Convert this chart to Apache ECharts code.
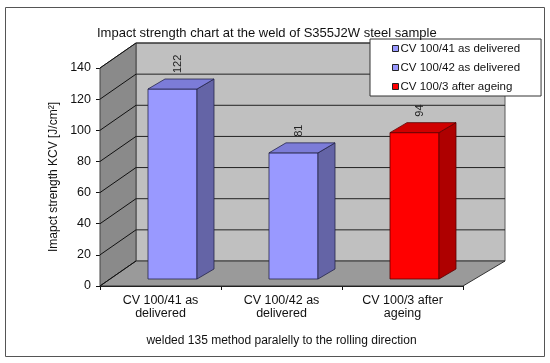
<!DOCTYPE html>
<html>
<head>
<meta charset="utf-8">
<script src="https://cdn.jsdelivr.net/npm/echarts@6/dist/echarts.min.js"></script>
<style>
html,body{margin:0;padding:0;background:#fff;}
#chart{width:550px;height:363px;}
</style>
</head>
<body>
<div id="chart"></div>
<script>
// ---- data ----
const categories = ['CV 100/41 as\ndelivered', 'CV 100/42 as\ndelivered', 'CV 100/3 after\nageing'];
const seriesNames = ['CV 100/41 as delivered', 'CV 100/42 as delivered', 'CV 100/3 after ageing'];
const values = [122, 81, 94];
const yMin = 0, yMax = 140, yStep = 20;

// ---- styles ----
const FONT = 'Arial, "Liberation Sans", sans-serif';
const faceColors = ['#9999FF', '#9999FF', '#FF0000'];
const sideColors = ['#6464A6', '#6464A6', '#AE0000'];
const topColors = ['#7C7CD8', '#7C7CD8', '#D00000'];
const edgeColors = ['#26264A', '#26264A', '#5A0000'];

// 3D geometry (pixels)
const DXL = 36, DXR = 42, DYW = -25;   // wall depth
const FX = 12, FY = -7;                // bar front offset
const BDX = 17, BDY = -10;             // bar depth
const BAR_FRAC = 0.405;

function wallsRender(params, api) {
  const cs = params.coordSys;
  const L = cs.x, R = cs.x + cs.width, T = cs.y, B = cs.y + cs.height;
  const children = [];
  children.push({type: 'polygon', shape: {points: [[L + DXL, T + DYW], [R + DXR, T + DYW], [R + DXR, B + DYW], [L + DXL, B + DYW]]},
    style: {fill: '#C0C0C0', stroke: '#5a5a5a', lineWidth: 1}});
  children.push({type: 'polygon', shape: {points: [[L, T], [L + DXL, T + DYW], [L + DXL, B + DYW], [L, B]]},
    style: {fill: '#8A8A8A', stroke: '#444', lineWidth: 1}});
  children.push({type: 'polygon', shape: {points: [[L, B], [R, B], [R + DXR, B + DYW], [L + DXL, B + DYW]]},
    style: {fill: '#9A9A9A', stroke: '#333', lineWidth: 1}});
  for (let t = yMin; t <= yMax; t += yStep) {
    const y = api.coord([0, t])[1];
    children.push({type: 'line', shape: {x1: L, y1: y, x2: L + DXL, y2: y + DYW}, style: {stroke: '#111', lineWidth: 1}});
    if (t > yMin) {
      children.push({type: 'line', shape: {x1: L + DXL, y1: y + DYW, x2: R + DXR, y2: y + DYW}, style: {stroke: '#222', lineWidth: 1}});
    }
  }
  return {type: 'group', children: children};
}

function barRender(i) {
  return function (params, api) {
    const cat = api.value(0), v = api.value(1);
    const base = api.coord([cat, 0]);
    const top = api.coord([cat, v]);
    const bw = api.size([1, 0])[0] * BAR_FRAC;
    const x0 = base[0] - bw / 2 + FX, x1 = x0 + bw;
    const yb = base[1] + FY, yt = top[1] + FY;
    const st = {stroke: edgeColors[i], lineWidth: 0.8};
    return {type: 'group', children: [
      {type: 'polygon', shape: {points: [[x0, yt], [x1, yt], [x1, yb], [x0, yb]]}, style: Object.assign({fill: faceColors[i]}, st)},
      {type: 'polygon', shape: {points: [[x1, yt], [x1 + BDX, yt + BDY], [x1 + BDX, yb + BDY], [x1, yb]]}, style: Object.assign({fill: sideColors[i]}, st)},
      {type: 'polygon', shape: {points: [[x0, yt], [x0 + BDX, yt + BDY], [x1 + BDX, yt + BDY], [x1, yt]]}, style: Object.assign({fill: topColors[i]}, st)},
      {type: 'text', x: (x0 + x1) / 2 + 5, y: yt + BDY - 6, rotation: Math.PI / 2,
        style: {text: String(v), fill: '#222', font: '11px ' + FONT, textAlign: 'left', textVerticalAlign: 'middle'}}
    ]};
  };
}

const series = [{
  type: 'custom', name: '_walls', silent: true, z: 1,
  renderItem: wallsRender, data: [[0, 0]]
}];
seriesNames.forEach(function (n, i) {
  series.push({
    type: 'custom', name: n, z: 3,
    itemStyle: {color: faceColors[i]},
    renderItem: barRender(i),
    data: [[i, values[i]]]
  });
});

const chart = echarts.init(document.getElementById('chart'), null, {renderer: 'canvas'});
chart.setOption({
  animation: false,
  backgroundColor: '#fff',
  title: {
    text: 'Impact strength chart at the weld of S355J2W steel sample',
    left: 92, top: 22,
    textStyle: {fontFamily: FONT, fontSize: 13, fontWeight: 'normal', color: '#111'}
  },
  legend: {
    orient: 'vertical', left: 370, top: 39,
    padding: [0, 21, 0, 22], itemGap: 0,
    backgroundColor: '#fff', borderColor: '#333', borderWidth: 1, borderRadius: 0,
    icon: 'rect', itemWidth: 6, itemHeight: 6,
    textStyle: {fontFamily: FONT, fontSize: 11.5, color: '#111', lineHeight: 19, padding: [0, 0, 0, -3]},
    data: seriesNames.map(function (n, i) {
      return {name: n, itemStyle: {color: faceColors[i], borderColor: '#222', borderWidth: 1}};
    })
  },
  grid: {left: 100, top: 68, width: 363, height: 218},
  xAxis: {
    type: 'category', data: categories,
    axisLine: {lineStyle: {color: '#111'}},
    axisTick: {show: true, length: 4, lineStyle: {color: '#111'}},
    axisLabel: {fontFamily: FONT, fontSize: 12.5, color: '#111', margin: 8, lineHeight: 13},
    name: 'welded 135 method paralelly to the rolling direction',
    nameLocation: 'middle', nameGap: 49,
    nameTextStyle: {fontFamily: FONT, fontSize: 12, color: '#111'}
  },
  yAxis: {
    type: 'value', min: yMin, max: yMax, interval: yStep,
    axisLine: {show: true, lineStyle: {color: '#111'}},
    axisTick: {show: true, length: 4, lineStyle: {color: '#111'}},
    axisLabel: {fontFamily: FONT, fontSize: 12.5, color: '#111', margin: 9},
    splitLine: {show: false},
    name: 'Imapct strength KCV [J/cm²]',
    nameLocation: 'middle', nameRotate: 90, nameGap: 39,
    nameTextStyle: {fontFamily: FONT, fontSize: 12, color: '#111'}
  },
  graphic: [{
    type: 'rect', silent: true, z: -1,
    shape: {x: 5.5, y: 7.5, width: 539, height: 349},
    style: {fill: 'none', stroke: '#555', lineWidth: 1}
  }],
  series: series
});
</script>
</body>
</html>
